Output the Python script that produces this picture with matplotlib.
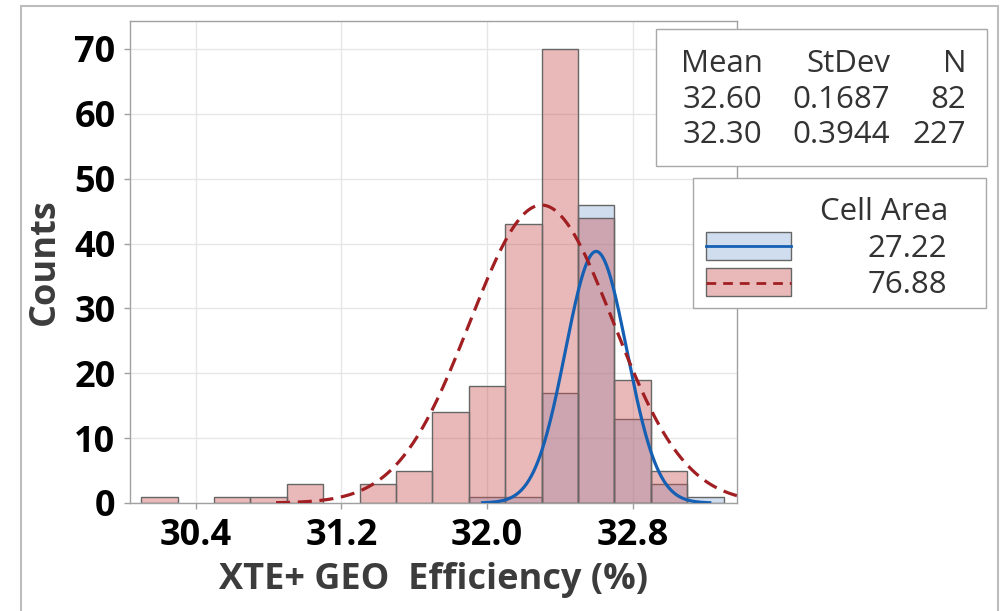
import numpy as np
import matplotlib
matplotlib.use('Agg')
import matplotlib.pyplot as plt
from matplotlib.patches import Rectangle
from matplotlib.lines import Line2D

# histogram data (bin centres, bin width 0.2)
bin_centers = [30.2, 30.4, 30.6, 30.8, 31.0, 31.2, 31.4, 31.6, 31.8,
               32.0, 32.2, 32.4, 32.6, 32.8, 33.0, 33.2]
counts_27 = [0, 0, 0, 0, 0, 0, 0, 0, 0, 1, 1, 17, 46, 13, 3, 1]
counts_77 = [1, 0, 1, 1, 3, 0, 3, 5, 14, 18, 43, 70, 44, 19, 5, 0]
bin_width = 0.2

# summary table
groups = ['27.22', '76.88']
means = [32.60, 32.30]
stdevs = [0.1687, 0.3944]
ns = [82, 227]

xticks = [30.4, 31.2, 32.0, 32.8]
yticks = [0, 10, 20, 30, 40, 50, 60, 70]

plt.rcParams['font.family'] = ['Open Sans', 'DejaVu Sans']

W, H = 1007, 611
fig = plt.figure(figsize=(W / 100, H / 100), dpi=100)

def fx(x):
    return x / W

def fy(y):
    return 1 - y / H

ax = fig.add_axes([fx(130), fy(503), fx(737) - fx(130), fy(21) - fy(503)])

blue_face = (137 / 255, 172 / 255, 215 / 255, 0.4)
red_face = (200 / 255, 82 / 255, 82 / 255, 0.4)
edge = '#666666'
blue_line = '#1660b4'
red_line = '#a11f22'

c27 = np.array(counts_27, dtype=float)
c77 = np.array(counts_77, dtype=float)
xc = np.array(bin_centers)
m27 = c27 > 0
m77 = c77 > 0
ax.bar(xc[m27], c27[m27], width=bin_width, color=blue_face, edgecolor=edge, linewidth=1, zorder=2)
ax.bar(xc[m77], c77[m77], width=bin_width, color=red_face, edgecolor=edge, linewidth=1, zorder=2)

# fitted normal curves
for mu, sd, n, col, ls in [(means[0], stdevs[0], ns[0], blue_line, '-'),
                           (means[1], stdevs[1], ns[1], red_line, '--')]:
    xs = np.linspace(mu - 3.7 * sd, mu + 3.7 * sd, 300)
    ys = n * bin_width * np.exp(-0.5 * ((xs - mu) / sd) ** 2) / (sd * np.sqrt(2 * np.pi))
    line, = ax.plot(xs, ys, color=col, lw=2.3, ls=ls, zorder=3)
    if ls == '--':
        line.set_dashes((4.4, 2.4))

ax.set_xlim(30.038, 33.374)
ax.set_ylim(0, 74.3)
ax.set_xticks(xticks)
ax.set_xticklabels([f'{t:.1f}' for t in xticks])
ax.set_yticks(yticks)
ax.grid(True, color='#e6e6e6', lw=1)
ax.set_axisbelow(True)
for s in ax.spines.values():
    s.set_color('#a0a0a0')
    s.set_linewidth(1)
ax.tick_params(direction='out', length=4.5, width=1, color='#a0a0a0',
               labelsize=26, labelcolor='black', pad=6)
for lab in ax.get_xticklabels() + ax.get_yticklabels():
    lab.set_fontweight('bold')
ax.set_xlabel('XTE+ GEO  Efficiency (%)', fontsize=26, fontweight='bold',
              color='#3c3c3c', labelpad=6)
ax.set_ylabel('Counts', fontsize=26, fontweight='bold', color='#3c3c3c', labelpad=8)

# outer frame
fig.add_artist(Rectangle((fx(21), fy(640)), fx(998) - fx(21), fy(6) - fy(640),
                         transform=fig.transFigure, fill=False, ec='#bdbdbd', lw=1.5))

# stats box
fig.add_artist(Rectangle((fx(656), fy(166)), fx(987) - fx(656), fy(29) - fy(166),
                         transform=fig.transFigure, fc='white', ec='#a8a8a8', lw=1, zorder=5))
tcol = '#333333'
fs = 22.5
col_right = [762.7, 890, 966]
for x, h in zip(col_right, ['Mean', 'StDev', 'N']):
    fig.text(fx(x), fy(71.7), h, ha='right', va='baseline', fontsize=fs, color=tcol, zorder=6)
row_y = [108.3, 143.3]
for i in range(2):
    vals = [f'{means[i]:.2f}', f'{stdevs[i]:.4f}', f'{ns[i]}']
    for x, v in zip(col_right, vals):
        fig.text(fx(x), fy(row_y[i]), v, ha='right', va='baseline', fontsize=fs, color=tcol, zorder=6)

# group legend box
fig.add_artist(Rectangle((fx(693), fy(308)), fx(986) - fx(693), fy(177.5) - fy(308),
                         transform=fig.transFigure, fc='white', ec='#a8a8a8', lw=1, zorder=5))
fig.text(fx(948), fy(220), 'Cell Area', ha='right', va='baseline', fontsize=fs, color=tcol, zorder=6)
sw_y = [231.5, 268.5]
faces = [blue_face, red_face]
lcols = [blue_line, red_line]
for i in range(2):
    fig.add_artist(Rectangle((fx(706), fy(sw_y[i] + 28)), fx(791) - fx(706), fy(sw_y[i]) - fy(sw_y[i] + 28),
                             transform=fig.transFigure, fc=faces[i], ec=edge, lw=1, zorder=6))
    ln = Line2D([fx(706), fx(791)], [fy(sw_y[i] + 14)] * 2, transform=fig.transFigure,
                color=lcols[i], lw=2, zorder=7)
    if i == 1:
        ln.set_linestyle('--')
        ln.set_dashes((3.5, 2.5))
    fig.add_artist(ln)
    fig.text(fx(947), fy(257.3 + 36 * i), groups[i], ha='right', va='baseline',
             fontsize=fs, color=tcol, zorder=6)

fig.savefig('out.png', dpi=100, facecolor='white')
